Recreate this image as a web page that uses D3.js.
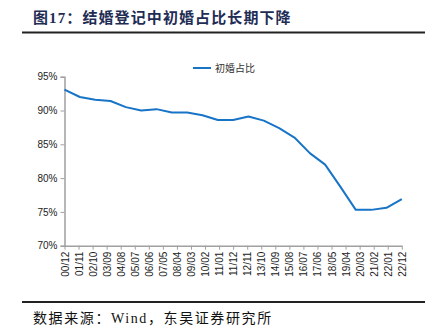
<!DOCTYPE html>
<html><head><meta charset="utf-8">
<script src="https://cdn.jsdelivr.net/npm/d3@7"></script>
<style>body{margin:0;background:#fff;}svg{display:block;}</style>
</head><body>
<svg id="c" width="436" height="334"></svg>
<script>
const years = [2000,2001,2002,2003,2004,2005,2006,2007,2008,2009,2010,2011,2012,2013,2014,2015,2016,2017,2018,2019,2020,2021,2022];
const firstMarriageShare = [93.1,92.0,91.6,91.4,90.5,90.0,90.2,89.7,89.7,89.3,88.6,88.6,89.1,88.5,87.4,86.0,83.7,82.0,78.7,75.3,75.3,75.6,76.9];
const xTickLabels = ["00/12","01/11","02/10","03/09","04/08","05/07","06/06","07/05","08/04","09/03","10/02","11/01","11/12","12/11","13/10","14/09","15/08","16/07","17/06","18/05","19/04","20/03","21/02","22/01","22/12"];
const yTicks = [70,75,80,85,90,95];
const seriesName = "初婚占比";
const title = "图17：结婚登记中初婚占比长期下降";
const source = "数据来源：Wind，东吴证券研究所";

const svg = d3.select("#c");
const L = 64.5, R = 401.8, T = 76.7, B = 245.7;
const x = d3.scaleLinear().domain([0, 264]).range([L, R]);
const y = d3.scaleLinear().domain([70, 95]).range([B, T]);
const axisColor = "#a0a0a0";

// title
svg.append("text").attr("x", 33).attr("y", 22.5)
  .attr("font-family", "'Liberation Serif', 'Noto Sans CJK SC', serif").attr("font-weight", "bold")
  .attr("font-size", 15).attr("letter-spacing", 1.1).attr("fill", "#1f2d55").text(title);
svg.append("line").attr("x1", 22).attr("x2", 425).attr("y1", 32.5).attr("y2", 32.5)
  .attr("stroke", "#222").attr("stroke-width", 1.8);
svg.append("line").attr("x1", 22).attr("x2", 425).attr("y1", 302).attr("y2", 302)
  .attr("stroke", "#222").attr("stroke-width", 1.8);
svg.append("text").attr("x", 33).attr("y", 323)
  .attr("font-family", "'Liberation Serif', 'Noto Sans CJK SC', serif")
  .attr("font-size", 14).attr("letter-spacing", 1.6).attr("fill", "#111").text(source);

// y axis
const yAxis = d3.axisLeft(y).tickValues(yTicks).tickFormat(d => d + "%").tickSize(4).tickPadding(3);
const gy = svg.append("g").attr("transform", `translate(${L},0)`).call(yAxis);
gy.select(".domain").attr("stroke", axisColor).attr("stroke-width", 1.5);
gy.selectAll(".tick line").attr("stroke", axisColor);
gy.selectAll("text").attr("font-family", "'Liberation Sans', Arial, sans-serif")
  .attr("font-size", 10).attr("fill", "#222");

// x axis
const tickMonths = xTickLabels.map((d, i) => i * 11);
const xAxis = d3.axisBottom(x).tickValues(tickMonths).tickFormat((d, i) => xTickLabels[i]).tickSize(4).tickSizeOuter(0);
const gx = svg.append("g").attr("transform", `translate(0,${B})`).call(xAxis);
gx.select(".domain").attr("stroke", axisColor).attr("stroke-width", 1.5);
gx.selectAll(".tick line").attr("stroke", axisColor);
gx.selectAll("text").attr("font-family", "'Liberation Sans', Arial, sans-serif")
  .attr("font-size", 10).attr("fill", "#222")
  .attr("text-anchor", "end").attr("transform", "rotate(-90)")
  .attr("x", -6).attr("y", 0).attr("dy", "0.35em");

// line
const line = d3.line().x((d, i) => x((years[i] - 2000) * 12)).y(d => y(d));
svg.append("path").datum(firstMarriageShare).attr("d", line)
  .attr("fill", "none").attr("stroke", "#1874c6").attr("stroke-width", 2).attr("stroke-linejoin", "round");

// legend
svg.append("line").attr("x1", 193).attr("x2", 211).attr("y1", 68).attr("y2", 68)
  .attr("stroke", "#1874c6").attr("stroke-width", 2);
svg.append("text").attr("x", 215).attr("y", 71.5)
  .attr("font-family", "'Noto Sans CJK SC', sans-serif")
  .attr("font-size", 10).attr("fill", "#333").text(seriesName);
</script>
</body></html>
